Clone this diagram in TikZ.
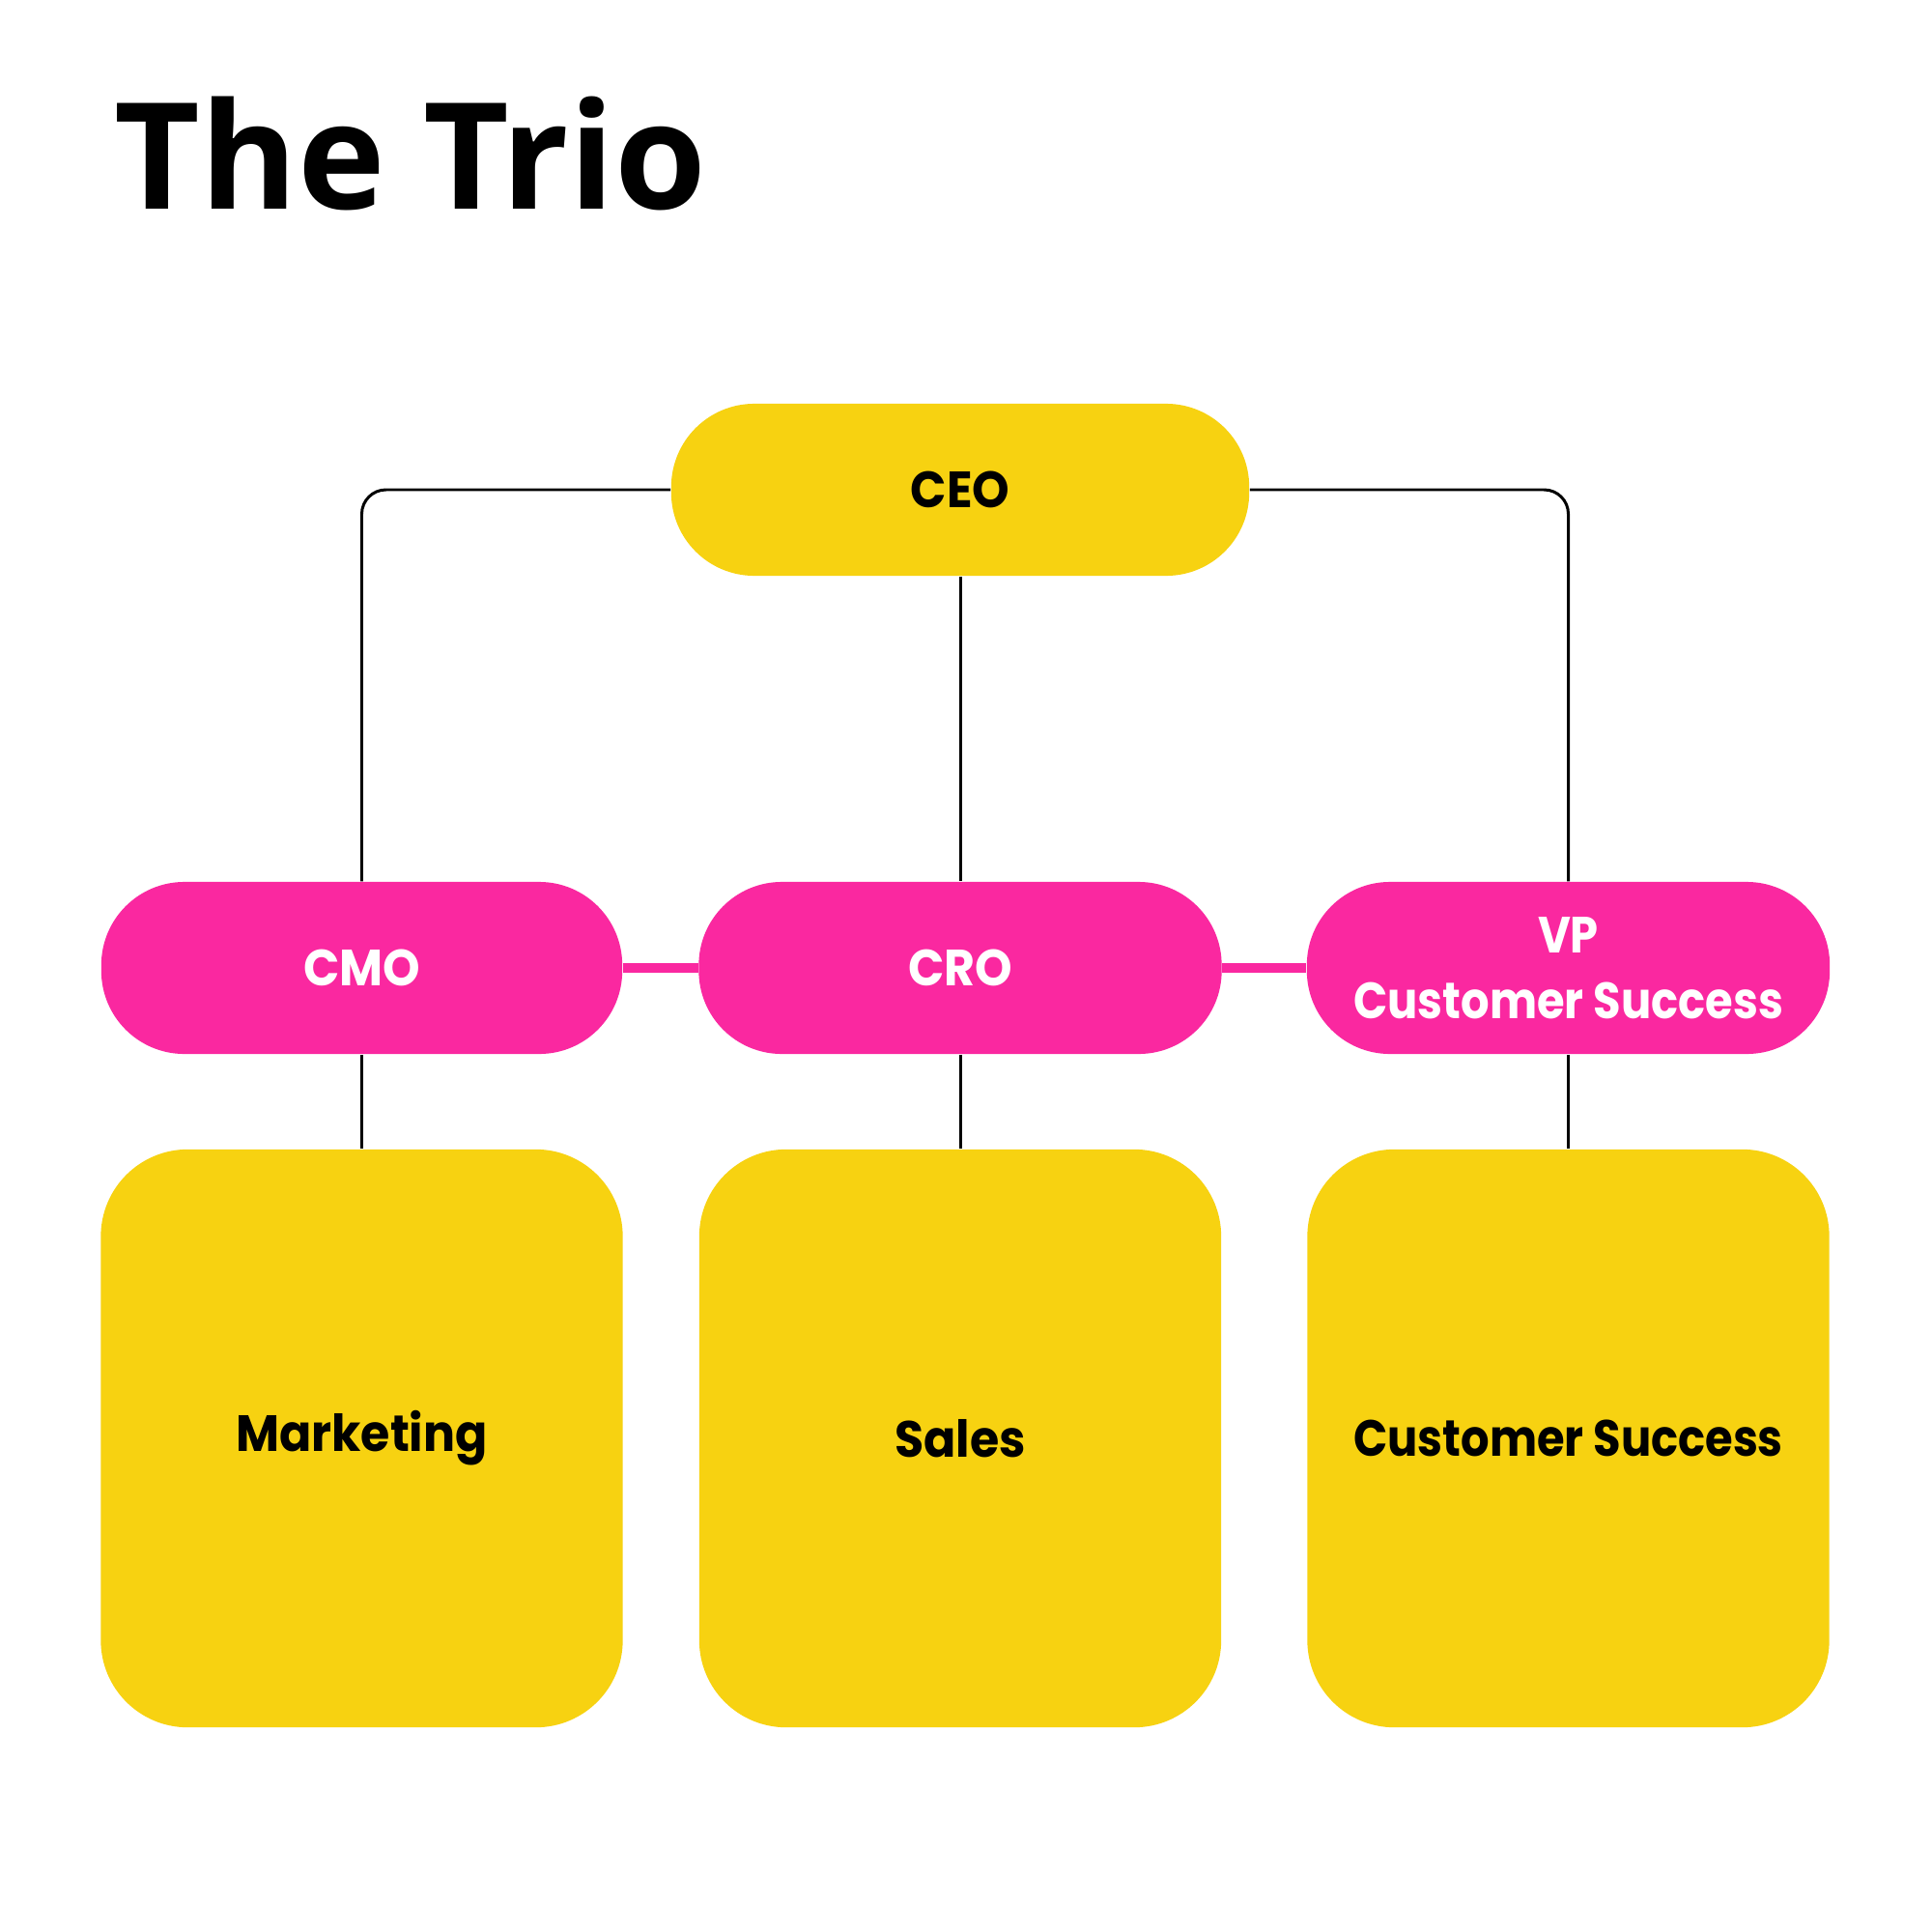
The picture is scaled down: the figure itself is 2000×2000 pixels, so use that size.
\documentclass[tikz,border=0pt]{standalone}
\usepackage{fontspec}
\setmainfont{Poppins}[FakeStretch=0.93]
\newfontfamily\titlefont{Open Sans}
\definecolor{trioyellow}{HTML}{F7D211}
\definecolor{triopink}{HTML}{FA28A0}
\begin{document}
\begin{tikzpicture}[x=0.01cm,y=-0.01cm,
  pill/.style={rounded corners=0.86cm, inner sep=0pt, minimum height=1.78cm, font=\fontsize{15}{19.2}\selectfont\bfseries, align=center},
  ypill/.style={pill, fill=trioyellow, text=black},
  ppill/.style={pill, fill=triopink, text=white},
  bigbox/.style={rounded corners=0.9cm, fill=trioyellow, inner sep=0pt, minimum width=5.4cm, minimum height=5.98cm, font=\fontsize{15}{19.2}\selectfont\bfseries},
  narrow/.style={font=\fontsize{15}{19.2}\selectfont\bfseries\addfontfeature{FakeStretch=0.88}},
  link/.style={draw=black, line width=0.85pt},
  plink/.style={draw=triopink, line width=3pt}]
\useasboundingbox (0,0) rectangle (2000,2000);
\fill[white] (0,0) rectangle (2000,2000);
\node[anchor=base west, inner sep=0pt, font=\titlefont\fontsize{43.6}{50}\selectfont\bfseries] (title) at (118,216) {The Trio};
\node[ypill, minimum width=5.98cm] (ceo) at (994,507) {CEO};
\node[ppill, minimum width=5.39cm] (cmo) at (374.5,1002) {CMO};
\node[ppill, minimum width=5.41cm] (cro) at (994,1002) {CRO};
\node[ppill, narrow, minimum width=5.41cm] (vp) at (1623.5,1002) {VP\\Customer Success};
\node[bigbox] (mkt) at (374.5,1489) {Marketing};
\node[bigbox] (sales) at (994,1489) {Sales};
\node[bigbox, narrow] (cs) at (1623.5,1489) {Customer Success};
\draw[link, rounded corners=0.25cm] (ceo.west) -| (cmo.north);
\draw[link, rounded corners=0.25cm] (ceo.east) -| (vp.north);
\draw[link] (ceo.south) -- (cro.north);
\draw[link] (cmo.south) -- (mkt.north);
\draw[link] (cro.south) -- (sales.north);
\draw[link] (vp.south) -- (cs.north);
\draw[plink] (cmo.east) -- (cro.west);
\draw[plink] (cro.east) -- (vp.west);
\end{tikzpicture}
\end{document}
